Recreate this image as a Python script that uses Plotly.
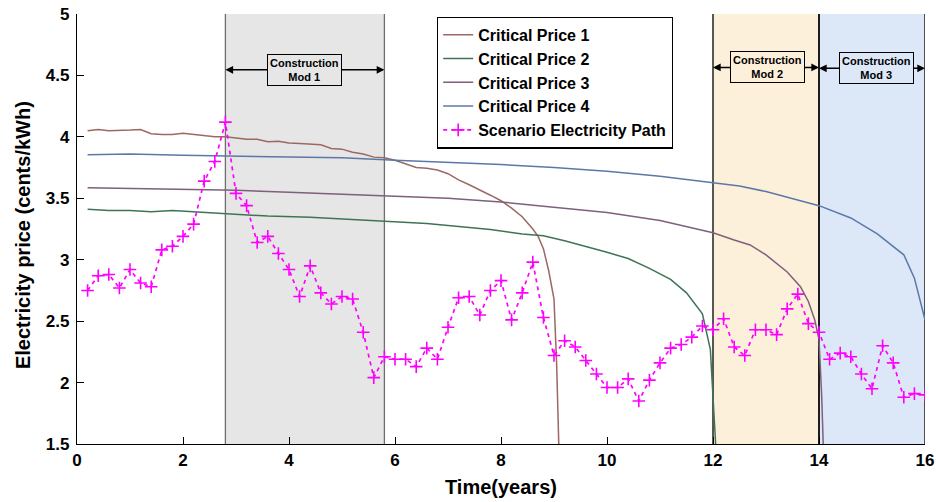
import plotly.graph_objects as go

# ---------------- data ----------------
scen_t = [0.2, 0.4, 0.6, 0.8, 1.0, 1.2, 1.4, 1.6, 1.8, 2.0,
          2.2, 2.4, 2.6, 2.8, 3.0, 3.2, 3.4, 3.6, 3.8, 4.0,
          4.2, 4.4, 4.6, 4.8, 5.0, 5.2, 5.4, 5.6, 5.8, 6.0,
          6.2, 6.4, 6.6, 6.8, 7.0, 7.2, 7.4, 7.6, 7.8, 8.0,
          8.2, 8.4, 8.6, 8.8, 9.0, 9.2, 9.4, 9.6, 9.8, 10.0,
          10.2, 10.4, 10.6, 10.8, 11.0, 11.2, 11.4, 11.6, 11.8, 12.0,
          12.2, 12.4, 12.6, 12.8, 13.0, 13.2, 13.4, 13.6, 13.8, 14.0,
          14.2, 14.4, 14.6, 14.8, 15.0, 15.2, 15.4, 15.6, 15.8, 16.0]
scen_price = [2.75, 2.87, 2.88, 2.77, 2.92, 2.81, 2.78, 3.08, 3.11, 3.19,
              3.29, 3.64, 3.80, 4.12, 3.54, 3.44, 3.14, 3.19, 3.05, 2.92,
              2.70, 2.95, 2.73, 2.64, 2.70, 2.68, 2.41, 2.04, 2.21, 2.19,
              2.19, 2.13, 2.28, 2.19, 2.45, 2.69, 2.70, 2.55, 2.75, 2.83,
              2.51, 2.73, 2.98, 2.53, 2.22, 2.34, 2.29, 2.18, 2.07, 1.96,
              1.96, 2.03, 1.85, 2.02, 2.16, 2.28, 2.31, 2.37, 2.46, 2.43,
              2.52, 2.29, 2.22, 2.43, 2.43, 2.39, 2.60, 2.72, 2.48, 2.41,
              2.19, 2.24, 2.21, 2.07, 1.95, 2.30, 2.16, 1.88, 1.91, 1.90]

cp1_t = [0.2, 0.4, 0.6, 0.8, 1.0, 1.2, 1.4, 1.6, 1.8, 2.0, 2.2, 2.4, 2.6, 2.8,
         3.0, 3.2, 3.4, 3.6, 3.8, 4.0, 4.2, 4.4, 4.6, 4.8, 5.0, 5.2, 5.4, 5.6,
         5.8, 6.0, 6.2, 6.4, 6.6, 6.8, 7.0, 7.2, 7.4, 7.6, 7.8, 8.0, 8.2, 8.4,
         8.6, 8.7, 8.8, 8.9, 9.0, 9.05, 9.09]
cp1_v = [4.05, 4.06, 4.05, 4.05, 4.055, 4.06, 4.025, 4.02, 4.02, 4.03, 4.02, 4.01, 4.0, 4.0,
         3.99, 3.98, 3.98, 3.96, 3.965, 3.95, 3.945, 3.94, 3.935, 3.905, 3.90, 3.875, 3.86, 3.835,
         3.83, 3.81, 3.78, 3.75, 3.745, 3.73, 3.70, 3.65, 3.61, 3.57, 3.525, 3.48, 3.42, 3.35,
         3.25, 3.19, 3.09, 2.91, 2.68, 2.15, 1.5]

cp2_t = [0.2, 0.6, 1.0, 1.4, 1.8, 2.2, 3.0, 3.6, 4.4, 5.0, 5.8, 6.6, 7.2, 7.8,
         8.4, 8.8, 9.2, 9.6, 10.0, 10.4, 10.8, 11.2, 11.5, 11.8, 11.95, 12.05]
cp2_v = [3.41, 3.40, 3.40, 3.39, 3.40, 3.39, 3.375, 3.355, 3.345, 3.33, 3.315, 3.295, 3.27, 3.245,
         3.21, 3.195, 3.155, 3.11, 3.06, 3.01, 2.93, 2.84, 2.73, 2.56, 2.27, 1.5]

cp3_t = [0.2, 1.0, 2.0, 3.0, 4.0, 5.0, 6.0, 7.0, 8.0, 9.0, 10.0, 11.0, 11.6, 12.0,
         12.4, 12.7, 13.0, 13.4, 13.65, 13.8, 13.92, 14.0, 14.05, 14.08]
cp3_v = [3.585, 3.58, 3.575, 3.565, 3.55, 3.535, 3.52, 3.50, 3.47, 3.43, 3.385, 3.32, 3.26, 3.22,
         3.16, 3.12, 3.04, 2.90, 2.78, 2.66, 2.51, 2.35, 1.9, 1.5]

cp4_t = [0.2, 1.0, 2.0, 3.0, 4.0, 5.0, 6.0, 7.0, 8.0, 9.0, 10.0, 11.0, 12.0, 12.5,
         13.0, 13.5, 14.0, 14.6, 15.1, 15.6, 15.8, 16.0]
cp4_v = [3.855, 3.86, 3.85, 3.845, 3.84, 3.83, 3.81, 3.795, 3.775, 3.75, 3.72, 3.68, 3.63, 3.60,
         3.555, 3.50, 3.44, 3.34, 3.21, 3.04, 2.85, 2.51]

series_names = ["Critical Price 1", "Critical Price 2", "Critical Price 3", "Critical Price 4"]
series_colors = ["#9C6862", "#3E7456", "#7E5F7C", "#5B78A8"]

x_ticks = [0, 2, 4, 6, 8, 10, 12, 14, 16]
x_tick_labels = ["0", "2", "4", "6", "8", "10", "12", "14", "16"]
y_ticks = [1.5, 2, 2.5, 3, 3.5, 4, 4.5, 5]
y_tick_labels = ["1.5", "2", "2.5", "3", "3.5", "4", "4.5", "5"]

# construction periods: (start, end, label, fill, border line colour)
periods = [(2.8, 5.8, "Construction<br>Mod 1", "#E6E6E6", "#6E6E6E"),
           (12.0, 14.0, "Construction<br>Mod 2", "#FDF0DB", "#000000"),
           (14.0, 16.0, "Construction<br>Mod 3", "#DCE8F8", "#000000")]
label_x = [4.3, 13.03, 15.09]
label_y = [4.546, 4.565, 4.558]

FONT = "Liberation Sans, Arial, Helvetica, sans-serif"

fig = go.Figure()

for t, v, n, c in zip([cp1_t, cp2_t, cp3_t, cp4_t], [cp1_v, cp2_v, cp3_v, cp4_v],
                      series_names, series_colors):
    fig.add_trace(go.Scatter(x=t, y=v, mode="lines", name=n,
                             line=dict(color=c, width=1.5)))

fig.add_trace(go.Scatter(x=scen_t, y=scen_price, mode="lines+markers",
                         name="Scenario Electricity Path",
                         line=dict(color="#FF00FF", width=1.7, dash="4px,4px"),
                         marker=dict(symbol="cross-thin-open", size=9,
                                     line=dict(color="#FF00FF", width=1.6))))

shapes = []
for (a, b, lab, fill, lc) in periods:
    shapes.append(dict(type="rect", xref="x", yref="y", x0=a, x1=b, y0=1.5, y1=5,
                       fillcolor=fill, line=dict(width=0), layer="below"))
for (a, b, lab, fill, lc) in periods:
    for xv in (a, b):
        shapes.append(dict(type="line", xref="x", yref="y", x0=xv, x1=xv, y0=1.5, y1=5,
                           line=dict(color=lc, width=1.3), layer="below"))
fig.update_layout(shapes=shapes)

annotations = []
for (a, b, lab, fill, lc), cx, cy in zip(periods, label_x, label_y):
    for end in (a, b):
        annotations.append(dict(x=end, y=cy, ax=cx, ay=cy, xref="x", yref="y",
                                axref="x", ayref="y", text="", showarrow=True,
                                arrowhead=2, arrowsize=1.1, arrowwidth=1.4,
                                arrowcolor="#000000", standoff=0))
    annotations.append(dict(x=cx, y=cy, xref="x", yref="y", text="<b>" + lab + "</b>",
                            showarrow=False, bgcolor=fill, bordercolor="#000000",
                            borderwidth=1, borderpad=2,
                            font=dict(family=FONT, size=11, color="#000000")))

annotations.append(dict(x=0.5, y=-0.1, xref="paper", yref="paper", text="<b>Time(years)</b>",
                        showarrow=False, yanchor="middle",
                        font=dict(family=FONT, size=20, color="#000000")))
annotations.append(dict(x=-0.063, y=0.485, xref="paper", yref="paper",
                        text="<b>Electricity price (cents/kWh)</b>", textangle=-90,
                        showarrow=False, xanchor="center",
                        font=dict(family=FONT, size=20, color="#000000")))
fig.update_layout(annotations=annotations)

fig.update_layout(
    width=936, height=502,
    margin=dict(l=77, r=11, t=14, b=58, autoexpand=False),
    paper_bgcolor="white", plot_bgcolor="white",
    font=dict(family=FONT, color="#000000"),
    showlegend=True,
    legend=dict(x=0.4245, y=0.994, xanchor="left", yanchor="top",
                bgcolor="white", bordercolor="#000000", borderwidth=1.2,
                font=dict(family=FONT, size=16, color="#000000", weight="bold"),
                tracegroupgap=0, itemwidth=30),
    xaxis=dict(range=[0, 16], tickmode="array", tickvals=x_ticks,
               ticktext=["<b>" + s + "</b>" for s in x_tick_labels],
               ticks="inside", ticklen=7, automargin=False,
               tickcolor="#000000", showline=True, linecolor="#000000", linewidth=1.2,
               showgrid=False, zeroline=False,
               tickfont=dict(family=FONT, size=17, color="#000000")),
    yaxis=dict(range=[1.5, 5], tickmode="array", tickvals=y_ticks,
               ticktext=["<b>" + s + "</b>" for s in y_tick_labels],
               ticks="inside", ticklen=7, automargin=False,
               tickcolor="#000000", showline=True, linecolor="#000000", linewidth=1.2,
               showgrid=False, zeroline=False, ticklabelstandoff=3,
               tickfont=dict(family=FONT, size=17, color="#000000")),
)

fig.write_html("out.html", config={"displayModeBar": False},
               post_script="document.body.style.margin='0';document.body.style.overflow='hidden';")
